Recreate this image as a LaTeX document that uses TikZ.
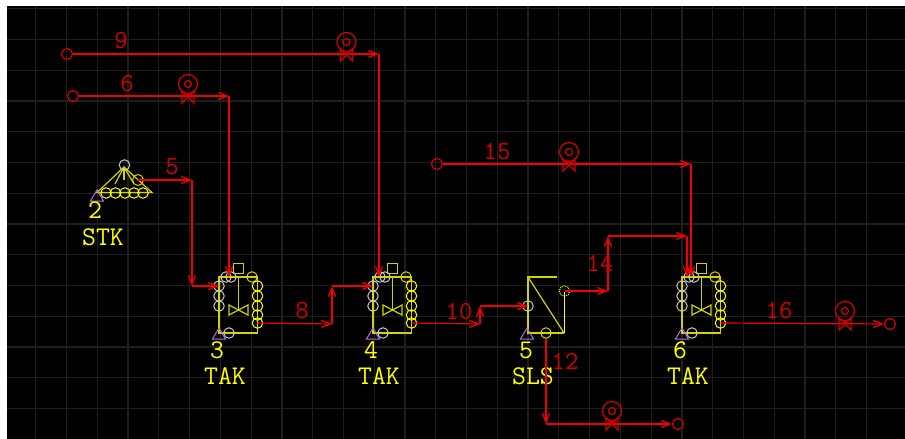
\documentclass[tikz,border=0pt]{standalone}
\usepackage{tikz}
\usetikzlibrary{arrows.meta}
\definecolor{myred}{HTML}{F00000}
\definecolor{mydarkred}{HTML}{D40000}
\definecolor{myyellow}{HTML}{FFFF00}
\definecolor{myolive}{HTML}{D2D200}
\definecolor{mygrey}{HTML}{C8C8C8}
\definecolor{mypurple}{HTML}{B46EE0}
\definecolor{mygrid}{HTML}{1E1E1E}
\tikzset{
	stream/.style={myred, line width=1.2pt, -{Straight Barb[length=9pt,width=7pt]}},
	port/.style={circle, draw, inner sep=0pt, minimum size=10.5pt, line width=1pt},
	endport/.style={port, mydarkred, minimum size=11pt, line width=1.2pt},
	streamlabel/.style={mydarkred, font=\fontsize{26}{26}\selectfont\ttfamily},
	unitlabel/.style={myyellow, font=\fontsize{27}{27}\selectfont\ttfamily},
	unitmark/.pic={
		\draw[mypurple, line width=1pt] (0,-11) -- (6.5,0) -- (-6.5,0) -- cycle;
	},
	pumpvalve/.pic={
		\draw[mydarkred, line width=1.2pt] (0,-13) circle (9.5);
		\draw[mydarkred, line width=1.2pt] (0,-13) circle (3.5);
		\draw[mydarkred, line width=1.2pt] (0,-3.5) -- (0,0);
		\draw[mydarkred, line width=1.2pt] (-6,-6) -- (6,6) -- (6,-6) -- (-6,6) -- cycle;
	},
	tank/.pic={
		\draw[myolive, line width=1.2pt] (0,0) rectangle (38.5,56);
		\draw[myolive, line width=1.2pt] (19.5,0) -- (19.5,33);
		\draw[myolive, line width=1.2pt] (10,28) -- (29,38) -- (29,28) -- (10,38) -- cycle;
		\draw[myolive, line width=1.2pt] (14.5,-13.5) rectangle (24.5,-3.5);
		\node[port, myolive] at (33,0) {};
		\foreach \y in {9,19,29}
			\node[port, mygrey] at (0,\y) {};
		\foreach \y in {9,19,29,38,46}
			\node[port, myyellow] at (38.5,\y) {};
		\node[port, mygrey] (-topa) at (7,0) {};
		\node[port, mygrey] (-topb) at (12,0) {};
		\node[port, mygrey] at (10,56) {};
		\pic at (0,62) {unitmark};
		\coordinate (-inlet) at (0,9);
		\coordinate (-outlet) at (38.5,46);
	},
}

\begin{document}
\begin{tikzpicture}[x=1pt, y=-1pt]
	\useasboundingbox (0,0) rectangle (905,439);
	\fill[black] (7,6) rectangle (905,439);
	\foreach \k in {1,...,28}
		\draw[mygrid, line width=1.2pt] ({5+30.77*\k},6) -- ({5+30.77*\k},439);
	\foreach \k in {0,...,13}
		\draw[mygrid, line width=1.2pt] (7,{8.6+30.77*\k}) -- (905,{8.6+30.77*\k});

	\draw[myolive, line width=1.2pt] (124,167) -- (97,192.5) -- (152,192.5) -- cycle;
	\draw[myolive, line width=1.2pt] (124,167) -- (115,184);
	\draw[myolive, line width=1.2pt] (124,167) -- (124,180);
	\draw[myolive, line width=1.2pt] (124,167) -- (134,184);
	\foreach \x in {106,115.5,125,134,143}
		\node[port, myyellow] at (\x,193) {};
	\node[port, mygrey] (stkTop) at (124.5,165) {};
	\node[port, myolive, minimum size=11pt] (stkOut) at (138,180) {};
	\pic at (97,201) {unitmark};
	\node[unitlabel] (num2) at (95,210) {2};
	\node[unitlabel] (stk) at (103,237) {STK};

	\pic (tak3) at (219,277) {tank};
	\pic (tak4) at (373,277) {tank};
	\pic (tak6) at (682,277) {tank};
	\node[unitlabel] (num3) at (217,350) {3};
	\node[unitlabel] (num4) at (371,350) {4};
	\node[unitlabel] (num6) at (680,350) {6};
	\node[unitlabel] (tak3name) at (225,376) {TAK};
	\node[unitlabel] (tak4name) at (379,376) {TAK};
	\node[unitlabel] (tak6name) at (688,376) {TAK};

	\draw[myolive, line width=1.2pt] (557,277) -- (528,277) -- (528,333) -- (564,333);
	\draw[myyellow, line width=1pt] (564,333) -- (564,292);
	\draw[myolive, line width=1.2pt] (528,277) -- (564,333);
	\node[port, mygrey] (slsIn) at (528,306) {};
	\node[port, myolive] (slsBot) at (546,333) {};
	\node[port, myyellow, densely dotted] (slsTop) at (564.5,291) {};
	\pic at (527,339) {unitmark};
	\node[unitlabel] (num5) at (526,350) {5};
	\node[unitlabel] (sls) at (533,376) {SLS};

	\node[endport] (src9) at (67,54) {};
	\node[endport] (src6) at (73,96) {};
	\node[endport] (src15) at (437,164) {};
	\node[endport] (end12) at (678,424) {};
	\node[endport] (end16) at (890,324) {};

	\coordinate (a9) at (379,54);
	\coordinate (a6) at (229,96);
	\coordinate (a5) at (192,180);
	\coordinate (b5) at (192,286);
	\coordinate (a8) at (332,324);
	\coordinate (b8) at (332,286);
	\coordinate (a10) at (480,324);
	\coordinate (b10) at (480,306);
	\coordinate (a14) at (608,291);
	\coordinate (b14) at (608,236);
	\coordinate (c14) at (687,236);
	\coordinate (a15) at (691,164);
	\coordinate (a12) at (546,424);

	\draw[stream] (src9) -- (a9);
	\draw[stream] (a9) -- (a9 |- tak4-topa.center);
	\draw[stream] (src6) -- (a6);
	\draw[stream] (a6) -- (a6 |- tak3-topa.center);
	\draw[stream] (stkOut.center) -- (a5);
	\draw[stream] (a5) -- (b5);
	\draw[stream] (b5) -- (tak3-inlet);
	\draw[stream] (tak3-outlet) -- (a8);
	\draw[stream] (a8) -- (b8);
	\draw[stream] (b8) -- (tak4-inlet);
	\draw[stream] (tak4-outlet) -- (a10);
	\draw[stream] (a10) -- (b10);
	\draw[stream] (b10) -- (slsIn.center);
	\draw[stream] (slsTop.center) -- (a14);
	\draw[stream] (a14) -- (b14);
	\draw[stream] (b14) -- (c14);
	\draw[stream] (c14) -- (c14 |- tak6-topa.center);
	\draw[stream] (src15) -- (a15);
	\draw[stream] (a15) -- (a15 |- tak6-topb.center);
	\draw[stream] (slsBot) -- (a12);
	\draw[stream] (a12) -- (end12);
	\draw[stream] (tak6-outlet) -- (end16);

	\pic (pm9) at (346.5,55) {pumpvalve};
	\pic (pm6) at (188,97) {pumpvalve};
	\pic (pm15) at (569,165) {pumpvalve};
	\pic (pm12) at (612,424) {pumpvalve};
	\pic (pm16) at (845,324) {pumpvalve};

	\node[streamlabel] (lbl9) at (121,41) {9};
	\node[streamlabel] (lbl6) at (127,84) {6};
	\node[streamlabel] (lbl5) at (172,167) {5};
	\node[streamlabel] (lbl8) at (302,311) {8};
	\node[streamlabel] (lbl10) at (459,312) {10};
	\node[streamlabel] (lbl12) at (565,361) {12};
	\node[streamlabel] (lbl14) at (600,263) {14};
	\node[streamlabel] (lbl15) at (497,152) {15};
	\node[streamlabel] (lbl16) at (779,311) {16};
\end{tikzpicture}
\end{document}
